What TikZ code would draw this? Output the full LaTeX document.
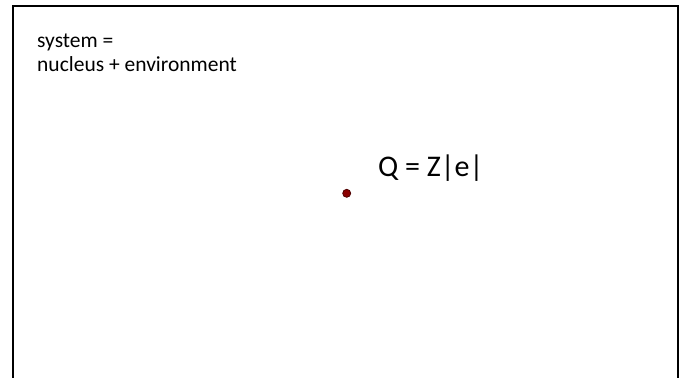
\documentclass[tikz,border=0pt]{standalone}
\usepackage{fontspec}
\setmainfont{Carlito}
\definecolor{nucfill}{RGB}{139,0,0}
\definecolor{nucline}{RGB}{80,0,0}
\begin{document}
\begin{tikzpicture}[x=1pt,y=-1pt,
  frameline/.style={line width=2.2pt,draw=black},
  smalltext/.style={anchor=base west,inner sep=0pt,align=left,font=\fontsize{21.5}{24}\selectfont},
  bigtext/.style={anchor=base west,inner sep=0pt,font=\fontsize{30}{36}\selectfont},
  nucleus/.style={circle,inner sep=0pt,minimum size=8pt,fill=nucfill,draw=nucline,line width=0.8pt}]
\useasboundingbox (0,0) rectangle (684,377);
\begin{scope}
\clip (0,0) rectangle (684,377);
\coordinate (bl) at (13,390);
\coordinate (tl) at (13,6);
\coordinate (tr) at (678,6);
\coordinate (br) at (678,390);
\draw[frameline] (bl) -- (tl) -- (tr) -- (br);
\end{scope}
\node[smalltext] (sys) at (37,72) {system =\\nucleus + environment};
\node[bigtext] (q) at (378,176) {Q = Z|e|};
\node[nucleus] (nuc) at (346.7,193.3) {};
\end{tikzpicture}
\end{document}
